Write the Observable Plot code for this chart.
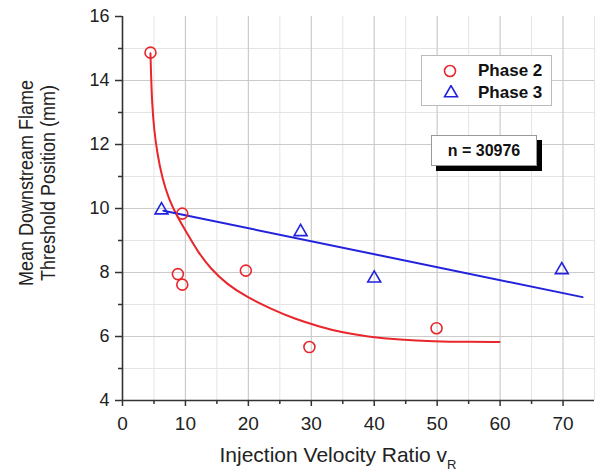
<!DOCTYPE html>
<html><head><meta charset="utf-8">
<script src="https://cdn.jsdelivr.net/npm/d3@7"></script>
<script src="https://cdn.jsdelivr.net/npm/@observablehq/plot@0.6"></script>
<style>
html,body{margin:0;padding:0;background:#fff;}
#wrap{position:relative;width:596px;height:473px;font-family:"Liberation Sans",Arial,sans-serif;}
.legend{position:absolute;left:421px;top:55px;width:131px;height:51px;border:1px solid #bbb;background:#fff;box-sizing:border-box;}
.legend .row{position:absolute;left:0;height:22px;display:flex;align-items:center;font-weight:bold;font-size:17px;color:#111;}
.legend svg{position:absolute;left:20px;}
.nbox{position:absolute;left:431px;top:135px;width:106px;height:31px;border:1px solid #999;background:#fff;box-sizing:border-box;box-shadow:5px 5px 0 #000;font-weight:bold;font-size:16px;color:#111;display:flex;align-items:center;justify-content:center;}
</style></head><body>
<div id="wrap"></div>
<script>
// Phase 2 measurements (red circles)
const phase2X = [4.45, 9.5, 8.8, 9.5, 19.6, 29.7, 49.9];
const phase2Y = [14.87, 9.84, 7.95, 7.62, 8.06, 5.67, 6.26];
// Phase 3 measurements (blue triangles)
const phase3X = [6.2, 28.3, 40.0, 69.8];
const phase3Y = [9.95, 9.27, 7.82, 8.08];
// Phase 2 fitted curve
const fit2X = [4.44, 4.55, 4.7, 5.0, 5.5, 6.3, 7.35, 8.67, 10.5, 12.0, 14.0, 16.6, 19.8, 23.5, 27.2, 31.4, 35.0, 38.8, 44.1, 49.4, 55.0, 59.9];
const fit2Y = [14.85, 14.1, 13.3, 12.5, 11.75, 10.95, 10.3, 9.75, 9.15, 8.64, 8.12, 7.63, 7.23, 6.87, 6.56, 6.30, 6.12, 6.0, 5.9, 5.85, 5.83, 5.83];
// Phase 3 fitted line
const fit3X = [6.5, 73.1];
const fit3Y = [9.93, 7.23];
// Axes
const xTicks = [0, 10, 20, 30, 40, 50, 60, 70];
const xMinor = [5, 15, 25, 35, 45, 55, 65, 75];
const yTicks = [4, 6, 8, 10, 12, 14, 16];
const yMinor = [5, 7, 9, 11, 13, 15];
const legendLabels = ["Phase 2", "Phase 3"];
const nLabel = "n = 30976";

const RED = "#e8262b", BLUE = "#2222dd";
const p2 = phase2X.map((x, i) => ({x, y: phase2Y[i]}));
const p3 = phase3X.map((x, i) => ({x, y: phase3Y[i]}));
const f2 = fit2X.map((x, i) => ({x, y: fit2Y[i]}));
const f3 = fit3X.map((x, i) => ({x, y: fit3Y[i]}));

const chart = Plot.plot({
  width: 596, height: 473,
  marginLeft: 122, marginRight: 2, marginTop: 16, marginBottom: 73,
  x: {domain: [0, 75]},
  y: {domain: [4, 16]},
  style: {fontFamily: "'Liberation Sans', Arial, sans-serif", fontSize: "18px", color: "#222", background: "#fff"},
  marks: [
    Plot.ruleX(xMinor, {stroke: "#e4e4e4", strokeWidth: 1}),
    Plot.ruleY(yMinor, {stroke: "#e4e4e4", strokeWidth: 1}),
    Plot.ruleX(xTicks.filter(d => d > 0), {stroke: "#cbcbcb", strokeWidth: 1.2}),
    Plot.ruleY(yTicks.filter(d => d > 4 && d < 16), {stroke: "#cbcbcb", strokeWidth: 1.2}),
    Plot.axisX({ticks: xTicks, tickSize: 6, tickPadding: 10, fontSize: 19, tickFormat: d => String(d), label: null, stroke: "#333", strokeWidth: 1.5}),
    Plot.axisX({ticks: xMinor.filter(d => d < 75), tickSize: 4, tickFormat: () => "", label: null, stroke: "#333", strokeWidth: 1.5}),
    Plot.axisY({ticks: yTicks, tickSize: 7, tickPadding: 6, tickFormat: d => String(d), label: null, stroke: "#333", strokeWidth: 1.5}),
    Plot.axisY({ticks: yMinor, tickSize: 4, tickFormat: () => "", label: null, stroke: "#333", strokeWidth: 1.5}),
    Plot.ruleY([4], {stroke: "#333", strokeWidth: 1.6}),
    Plot.ruleX([0], {stroke: "#333", strokeWidth: 1.6}),
    Plot.line(f2, {x: "x", y: "y", stroke: RED, strokeWidth: 2, curve: "basis"}),
    Plot.line(f3, {x: "x", y: "y", stroke: BLUE, strokeWidth: 2}),
    Plot.dot(p2, {x: "x", y: "y", r: 5.5, stroke: RED, strokeWidth: 1.6, fill: "none"}),
    Plot.dot(p3, {x: "x", y: "y", r: 4.8, symbol: "triangle", stroke: BLUE, strokeWidth: 1.6, fill: "none"})
  ]
});

const wrap = document.getElementById("wrap");
wrap.appendChild(chart);
const svg = d3.select(chart);
// y label (two lines)
const yl = svg.append("text")
  .attr("transform", "translate(0,183) scale(1.15,1) rotate(-90)")
  .attr("text-anchor", "middle")
  .attr("font-size", 18).attr("fill", "#222");
yl.append("tspan").attr("x", 0).attr("y", 29).text("Mean Downstream Flame");
yl.append("tspan").attr("x", 0).attr("y", 47.5).text("Threshold Position (mm)");
// x label
const xl = svg.append("text").attr("x", 338).attr("y", 462)
  .attr("text-anchor", "middle").attr("font-size", 21).attr("fill", "#222");
xl.append("tspan").text("Injection Velocity Ratio v");
xl.append("tspan").attr("font-size", 13).attr("dy", 7).text("R");

// legend
const leg = document.createElement("div");
leg.className = "legend";
const syms = [
  '<svg width="16" height="16" viewBox="-8 -8 16 16"><circle r="5.5" fill="none" stroke="' + RED + '" stroke-width="1.6"/></svg>',
  '<svg width="18" height="16" viewBox="-9 -8 18 16"><path d="' + d3.symbol(d3.symbolTriangle, 4.8*4.8*Math.PI)() + '" fill="none" stroke="' + BLUE + '" stroke-width="1.6"/></svg>'
];
legendLabels.forEach((t, i) => {
  const r = document.createElement("div");
  r.className = "row";
  r.style.top = (4 + i * 22) + "px";
  r.style.width = "100%";
  r.innerHTML = syms[i] + '<span style="position:absolute;left:56px;">' + t + '</span>';
  leg.appendChild(r);
});
wrap.appendChild(leg);
const nb = document.createElement("div");
nb.className = "nbox";
nb.textContent = nLabel;
wrap.appendChild(nb);
</script>
</body></html>
